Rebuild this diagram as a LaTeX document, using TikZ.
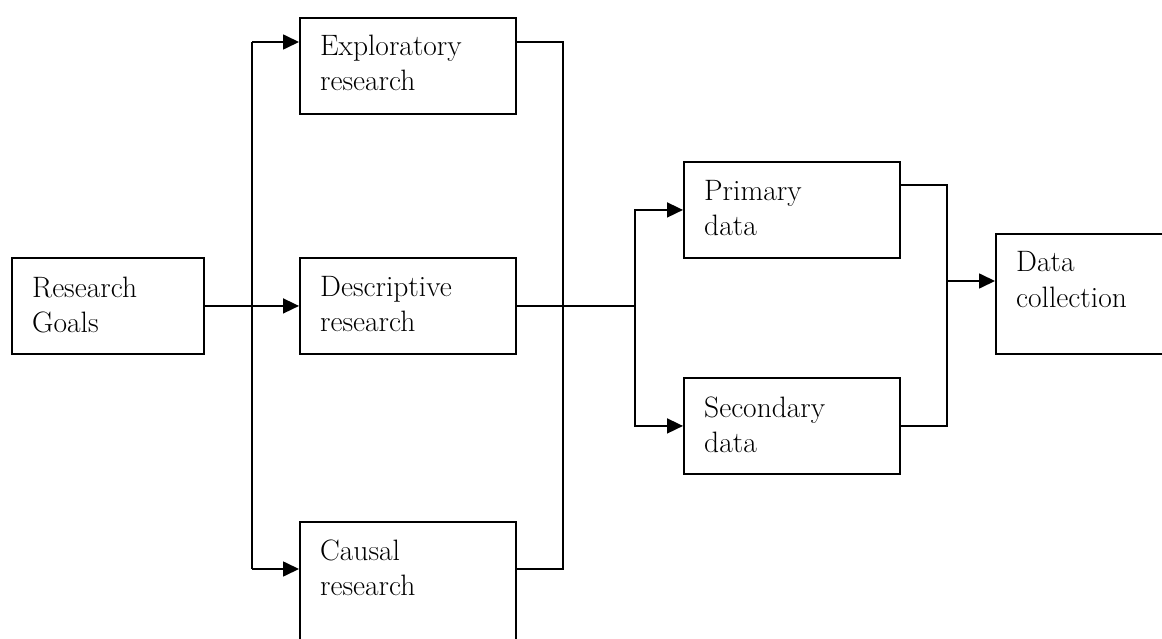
\documentclass[tikz,border=0pt]{standalone}
\usetikzlibrary{arrows.meta,calc}
\begin{document}
\begin{tikzpicture}[x=1pt,y=-1pt,
  box/.style={draw,line width=1.9pt,rectangle,inner sep=0pt,anchor=north west,minimum width=216pt,minimum height=96pt},
  txt/.style={anchor=base west,inner sep=0pt,font=\fontsize{29.5}{35}\selectfont},
  conn/.style={line width=1.7pt},
  arr/.style={conn,-{Triangle[length=16pt,width=15pt]}}]
\clip (0,0) rectangle (1162,639);
% boxes
\node[box,minimum width=192pt] (G) at (11,257) {};
\node[box] (E) at (299,17) {};
\node[box] (D) at (299,257) {};
\node[box,minimum height=140pt] (C) at (299,521) {};
\node[box] (P) at (683,161) {};
\node[box] (S) at (683,377) {};
\node[box,minimum width=190pt,minimum height=120pt] (DC) at (995,233) {};
% texts
\node[txt] (G1) at ([shift={(21,40)}]G.north west) {Research};
\node[txt] (G2) at ([shift={(21,75)}]G.north west) {Goals};
\node[txt] (E1) at ([shift={(21,39)}]E.north west) {Exploratory};
\node[txt] (E2) at ([shift={(21,74)}]E.north west) {research};
\node[txt] (D1) at ([shift={(21,39)}]D.north west) {Descriptive};
\node[txt] (D2) at ([shift={(21,74)}]D.north west) {research};
\node[txt] (C1) at ([shift={(21,39)}]C.north west) {Causal};
\node[txt] (C2) at ([shift={(21,74)}]C.north west) {research};
\node[txt] (P1) at ([shift={(21,40)}]P.north west) {Primary};
\node[txt] (P2) at ([shift={(21,75)}]P.north west) {data};
\node[txt] (S1) at ([shift={(21,40)}]S.north west) {Secondary};
\node[txt] (S2) at ([shift={(21,75)}]S.north west) {data};
\node[txt] (DC1) at ([shift={(21,39)}]DC.north west) {Data};
\node[txt] (DC2) at ([shift={(21,74)}]DC.north west) {collection};
% connectors
\coordinate (bt) at (252,42);
\coordinate (bb) at (252,569);
\coordinate (rt) at (563,42);
\coordinate (rb) at (563,569);
\coordinate (jx) at (635,0);
\coordinate (pk) at (947,185);
\coordinate (k) at (947,281);
\coordinate (j) at (jx |- D.east);
\draw[arr] (G.east) -- (D.west);
\draw[conn] (bt) -- (bb);
\draw[arr] (bt) -- (bt -| E.west);
\draw[arr] (bb) -- (bb -| C.west);
\draw[conn] (rt -| E.east) -- (rt) -- (rb) -- (rb -| C.east);
\draw[conn] (D.east) -- (j);
\draw[arr] (j) |- (P.west);
\draw[arr] (j) |- (S.west);
\draw[conn] (pk -| P.east) -- (pk) -- (pk |- S.east) -- (S.east);
\draw[arr] (k) -- (k -| DC.west);
\end{tikzpicture}
\end{document}
